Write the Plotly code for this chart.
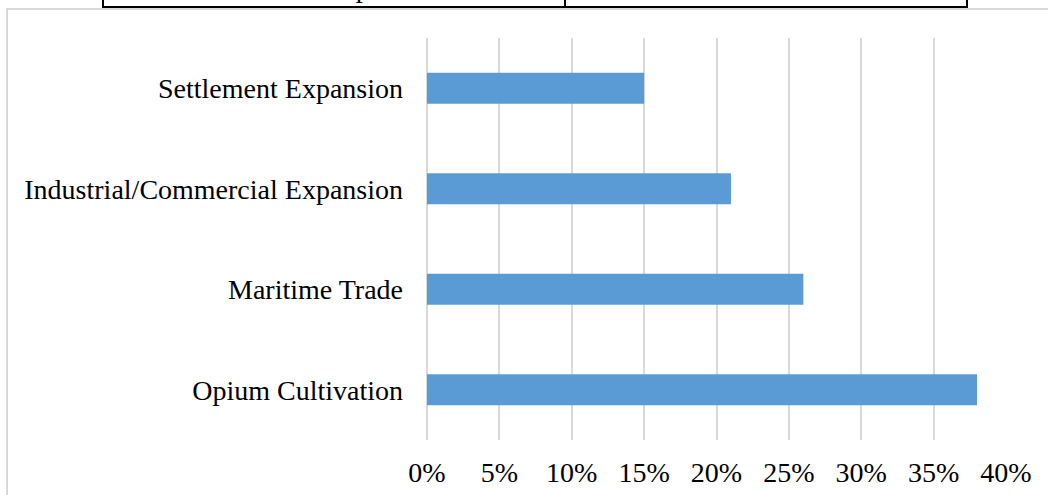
import plotly.graph_objects as go

categories = ["Opium Cultivation", "Maritime Trade", "Industrial/Commercial Expansion", "Settlement Expansion"]
values = [38, 26, 21, 15]
x_ticks = [0, 5, 10, 15, 20, 25, 30, 35, 40]
x_tick_labels = [f"{v}%" for v in x_ticks]
table_texts = ["Settlement Expansion", "15%"]

FONT = "Liberation Serif, Times New Roman, serif"

# plot-area pixel geometry
PX0, PX1, PY0, PY1 = 427, 1006, 38, 440
W, H = PX1 - PX0, PY1 - PY0


def px(x):
    return (x - PX0) / W


def py(y):
    return (PY1 - y) / H


fig = go.Figure(
    go.Bar(
        x=values,
        y=categories,
        orientation="h",
        marker=dict(color="#5b9bd5", line=dict(width=0)),
        hoverinfo="x+y",
    )
)

shapes = [
    # outer light-gray chart border
    dict(type="rect", xref="paper", yref="paper",
         x0=px(7), x1=px(1052), y0=py(9), y1=py(500),
         line=dict(color="#d9d9d9", width=2), fillcolor="rgba(0,0,0,0)", layer="below"),
    # table fragment at top
    dict(type="line", xref="paper", yref="paper",
         x0=px(102), x1=px(968), y0=py(7), y1=py(7),
         line=dict(color="black", width=2)),
]
for xv in (103, 565, 967):
    shapes.append(dict(type="line", xref="paper", yref="paper",
                       x0=px(xv), x1=px(xv), y0=py(-5), y1=py(7),
                       line=dict(color="black", width=2)))

annotations = [
    dict(text=table_texts[0], xref="paper", yref="paper", x=px(320), y=py(5.5),
         xanchor="center", yanchor="bottom", showarrow=False,
         font=dict(family=FONT, size=28, color="black")),
    dict(text=table_texts[1], xref="paper", yref="paper", x=px(771), y=py(5.5),
         xanchor="center", yanchor="bottom", showarrow=False,
         font=dict(family=FONT, size=28, color="black")),
]

fig.update_layout(
    width=1048,
    height=495,
    margin=dict(l=PX0, r=1048 - PX1, t=PY0, b=495 - PY1, autoexpand=False),
    paper_bgcolor="white",
    plot_bgcolor="white",
    showlegend=False,
    bargap=0.69,
    shapes=shapes,
    annotations=annotations,
    font=dict(family=FONT, size=28, color="black"),
)

fig.update_xaxes(
    range=[0, 40],
    tickvals=x_ticks,
    ticktext=x_tick_labels,
    showgrid=True,
    gridcolor="#d9d9d9",
    gridwidth=1.5,
    zeroline=True,
    zerolinecolor="#d9d9d9",
    zerolinewidth=1.5,
    showline=False,
    ticks="",
    ticklabelstandoff=13,
    tickfont=dict(family=FONT, size=28, color="black"),
    automargin=False,
)

fig.update_yaxes(
    categoryorder="array",
    categoryarray=categories,
    showgrid=False,
    zeroline=False,
    showline=False,
    ticks="",
    ticklabelstandoff=23,
    tickfont=dict(family=FONT, size=28, color="black"),
    automargin=False,
)

fig.write_html("out.html")
